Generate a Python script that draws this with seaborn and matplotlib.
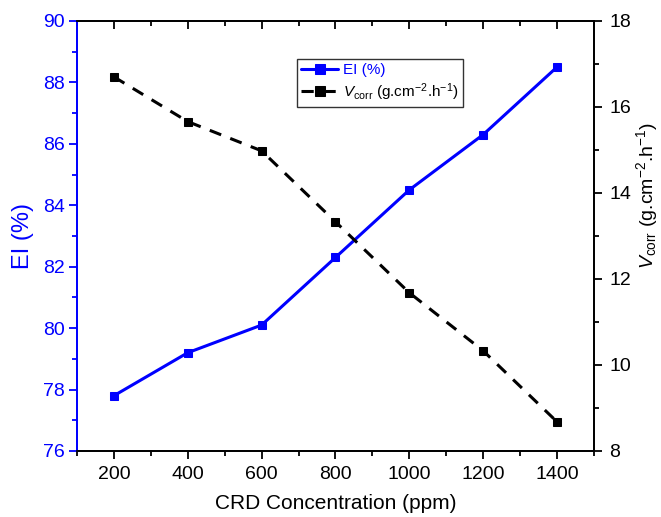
import matplotlib
matplotlib.use("Agg")
import matplotlib.pyplot as plt
import seaborn as sns
import pandas as pd
from matplotlib.ticker import MultipleLocator

sns.set_style("ticks")
plt.rcParams['font.family'] = ['Liberation Sans', 'DejaVu Sans']
plt.rcParams['mathtext.fontset'] = 'custom'
plt.rcParams['mathtext.rm'] = 'Liberation Sans'
plt.rcParams['mathtext.it'] = 'Liberation Sans:italic'
plt.rcParams['text.color'] = 'black'
plt.rcParams['axes.labelcolor'] = 'black'

conc = [200, 400, 600, 800, 1000, 1200, 1400]
ei = [77.8, 79.2, 80.1, 82.3, 84.5, 86.3, 88.5]
vcorr = [16.70, 15.66, 14.98, 13.33, 11.68, 10.33, 8.68]

df = pd.DataFrame({"conc": conc, "ei": ei, "vcorr": vcorr})

fig = plt.figure(figsize=(6.61, 5.17), dpi=100)
ax = fig.add_axes([0.1165, 0.1277, 0.782, 0.8317])
ax2 = ax.twinx()

blue = "#0000FF"
sns.lineplot(data=df, x="conc", y="ei", ax=ax, color=blue, lw=2.2,
             marker="s", markersize=6, markeredgecolor=blue, label="EI (%)", legend=False)
sns.lineplot(data=df, x="conc", y="vcorr", ax=ax2, color="black", lw=2.2,
             marker="s", markersize=6, markeredgecolor="black", linestyle=(0, (4, 3.2)),
             label=r"$V_{\rm corr}$ (g.cm$^{-2}$.h$^{-1}$)", legend=False)

ax.set_xlim(100, 1500)
ax.set_ylim(76, 90)
ax2.set_ylim(8, 18)
ax.xaxis.set_major_locator(MultipleLocator(200))
ax.xaxis.set_minor_locator(MultipleLocator(100))
ax.yaxis.set_major_locator(MultipleLocator(2))
ax.yaxis.set_minor_locator(MultipleLocator(1))
ax2.yaxis.set_major_locator(MultipleLocator(2))
ax2.yaxis.set_minor_locator(MultipleLocator(1))

for a in (ax, ax2):
    for s in a.spines.values():
        s.set_visible(True)
        s.set_linewidth(1.3)
        s.set_color("black")
ax.spines['left'].set_color(blue)
ax2.spines['left'].set_color(blue)

ax.tick_params(axis='x', which='major', direction='out', length=6, width=1.3,
               labelsize=14, top=True, colors='black', pad=5)
ax.tick_params(axis='x', which='minor', direction='out', length=3.5, width=1.3, top=True,
               colors='black')
ax.tick_params(axis='y', which='major', direction='out', length=6, width=1.3,
               labelsize=14, colors=blue, pad=3)
ax.tick_params(axis='y', which='minor', direction='out', length=3.5, width=1.3, colors=blue)
ax2.tick_params(axis='y', which='major', direction='out', length=6, width=1.3,
                labelsize=14, colors='black', pad=5)
ax2.tick_params(axis='y', which='minor', direction='out', length=3.5, width=1.3,
                colors='black')

# top ticks inward
for t in ax.xaxis.get_major_ticks() + ax.xaxis.get_minor_ticks():
    t.tick2line.set_marker(3)  # TICKDOWN
ax.xaxis.set_tick_params(which='both', labeltop=False)

ax.set_xlabel("CRD Concentration (ppm)", fontsize=15, labelpad=8, color='black')
ax.set_ylabel("EI (%)", fontsize=17, color=blue, labelpad=6)
ax2.set_ylabel(r"$V_{\rm corr}$ (g.cm$^{-2}$.h$^{-1}$)", fontsize=14, color='black')
ax2.yaxis.label.set_va('center')
ax2.yaxis.label.set_ha('center')
ax2.yaxis.set_label_coords(1.102, 0.595)

h1, l1 = ax.get_legend_handles_labels()
h2, l2 = ax2.get_legend_handles_labels()
leg = ax2.legend(h1 + h2, l1 + l2, loc='upper left', bbox_to_anchor=(0.425, 0.912),
                 fontsize=11, frameon=True, fancybox=False, edgecolor='black',
                 handlelength=2.4, handletextpad=0.3, borderpad=0.3, labelspacing=0.25,
                 borderaxespad=0, markerscale=1.2)
leg.get_frame().set_linewidth(1.0)
leg.get_texts()[0].set_color(blue)
leg.get_texts()[1].set_color('black')

fig.savefig("out.png", dpi=100)
